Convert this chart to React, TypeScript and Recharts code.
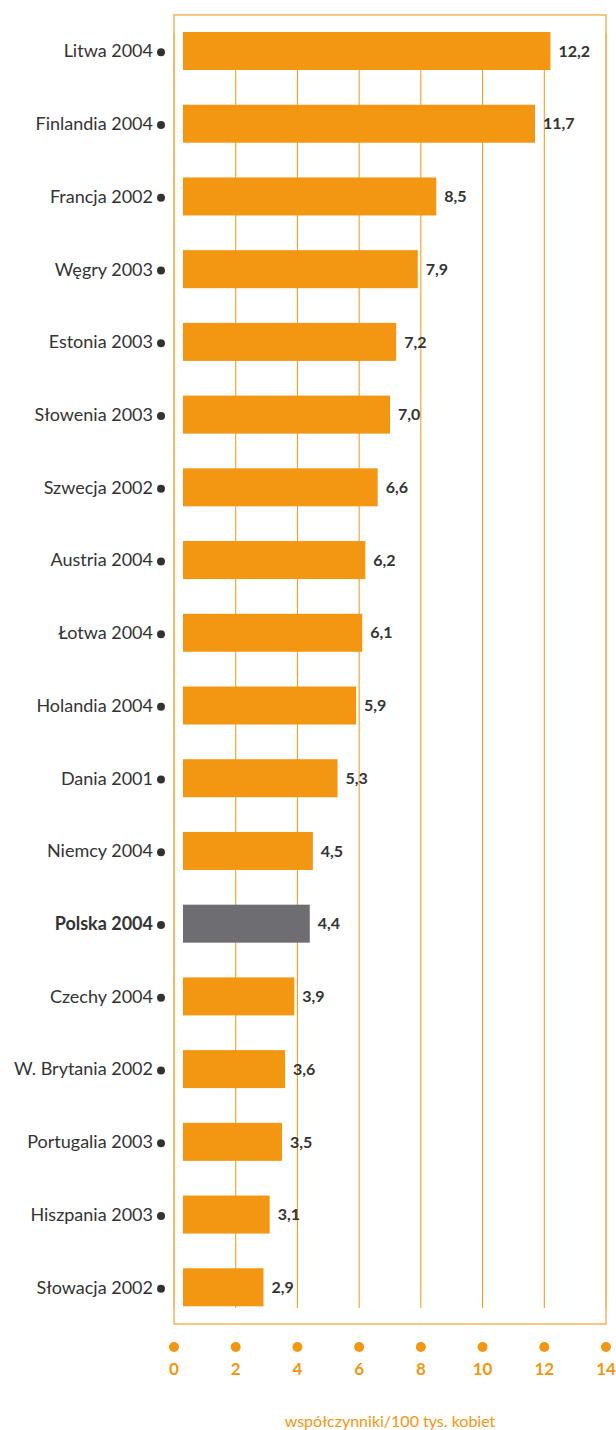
import React from "react";
import {
  BarChart,
  Bar,
  Cell,
  XAxis,
  YAxis,
  CartesianGrid,
  LabelList,
  ReferenceArea,
} from "recharts";

const countries = [
  "Litwa 2004",
  "Finlandia 2004",
  "Francja 2002",
  "Węgry 2003",
  "Estonia 2003",
  "Słowenia 2003",
  "Szwecja 2002",
  "Austria 2004",
  "Łotwa 2004",
  "Holandia 2004",
  "Dania 2001",
  "Niemcy 2004",
  "Polska 2004",
  "Czechy 2004",
  "W. Brytania 2002",
  "Portugalia 2003",
  "Hiszpania 2003",
  "Słowacja 2002",
];

const rates = [12.2, 11.7, 8.5, 7.9, 7.2, 7.0, 6.6, 6.2, 6.1, 5.9, 5.3, 4.5, 4.4, 3.9, 3.6, 3.5, 3.1, 2.9];

const xTicks = [0, 2, 4, 6, 8, 10, 12, 14];

const highlight = "Polska 2004";

const ORANGE = "#F39612";
const BORDER = "#F6B25A";
const GREY = "#6E6D71";
const TEXT = "#333333";
const FONT = "Lato, 'Open Sans', sans-serif";

const data = countries.map((name, i) => ({ name, value: rates[i] }));

const fmt = (v: number) => v.toFixed(1).replace(".", ",");

// bars in the original start a little right of the zero line
function OffsetBar(props: any) {
  const { x, y, width, height, fill } = props;
  const shift = 9;
  return <rect x={x + shift} y={y} width={Math.max(0, width - shift)} height={height} fill={fill} />;
}

function CountryTick(props: any) {
  const { x, y, payload } = props;
  const bold = payload.value === highlight;
  return (
    <g>
      <text
        x={x - 21}
        y={y}
        dy={6}
        textAnchor="end"
        fontFamily={FONT}
        fontSize={18}
        fontWeight={bold ? 700 : 400}
        fill={TEXT}
      >
        {payload.value}
      </text>
      <circle cx={x - 13} cy={y + 1} r={4} fill={TEXT} />
    </g>
  );
}

function DotTick(props: any) {
  const { x, y, payload } = props;
  return (
    <g>
      <circle cx={x} cy={y + 23} r={5} fill={ORANGE} />
      <text x={x} y={y + 51} textAnchor="middle" fontFamily={FONT} fontSize={17} fontWeight={700} fill={ORANGE}>
        {payload.value}
      </text>
    </g>
  );
}

function GridLine(props: any) {
  const { x1, y1, x2, y2 } = props;
  return <line x1={x1} x2={x2} y1={y1 + 22} y2={y2 - 16} stroke={ORANGE} strokeWidth={1} />;
}

export default function App() {
  return (
    <div style={{ position: "absolute", left: 0, top: 0 }}>
      <BarChart
        width={616}
        height={1430}
        data={data}
        layout="vertical"
        margin={{ top: 11, right: 10, bottom: 46, left: 0 }}
        barSize={38}
      >
        <CartesianGrid horizontal={false} vertical={GridLine} />
        <XAxis
          type="number"
          domain={[0, 14]}
          ticks={xTicks}
          axisLine={false}
          tickLine={false}
          tickSize={0}
          tickMargin={0}
          height={60}
          tick={DotTick}
          label={{
            content: (p: any) => {
              const vb = p.viewBox;
              return (
                <text
                  x={vb.x + vb.width / 2}
                  y={vb.y + 103}
                  textAnchor="middle"
                  fontFamily={FONT}
                  fontSize={16}
                  fill={ORANGE}
                >
                  współczynniki/100 tys. kobiet
                </text>
              );
            },
          }}
        />
        <YAxis
          type="category"
          dataKey="name"
          width={174}
          axisLine={false}
          tickLine={false}
          tickSize={0}
          tickMargin={0}
          interval={0}
          padding={{ top: 4, bottom: 0 }}
          tick={CountryTick}
        />
        <ReferenceArea x1={0} x2={14} fill="none" stroke={BORDER} strokeWidth={1.5} ifOverflow="visible" />
        <Bar dataKey="value" isAnimationActive={false} shape={OffsetBar}>
          {data.map((d) => (
            <Cell key={d.name} fill={d.name === highlight ? GREY : ORANGE} />
          ))}
          <LabelList
            dataKey="value"
            position="right"
            offset={8}
            formatter={(v: any) => fmt(Number(v))}
            style={{ fontFamily: FONT, fontSize: 16, fontWeight: 700, fill: TEXT }}
          />
        </Bar>
      </BarChart>
    </div>
  );
}
